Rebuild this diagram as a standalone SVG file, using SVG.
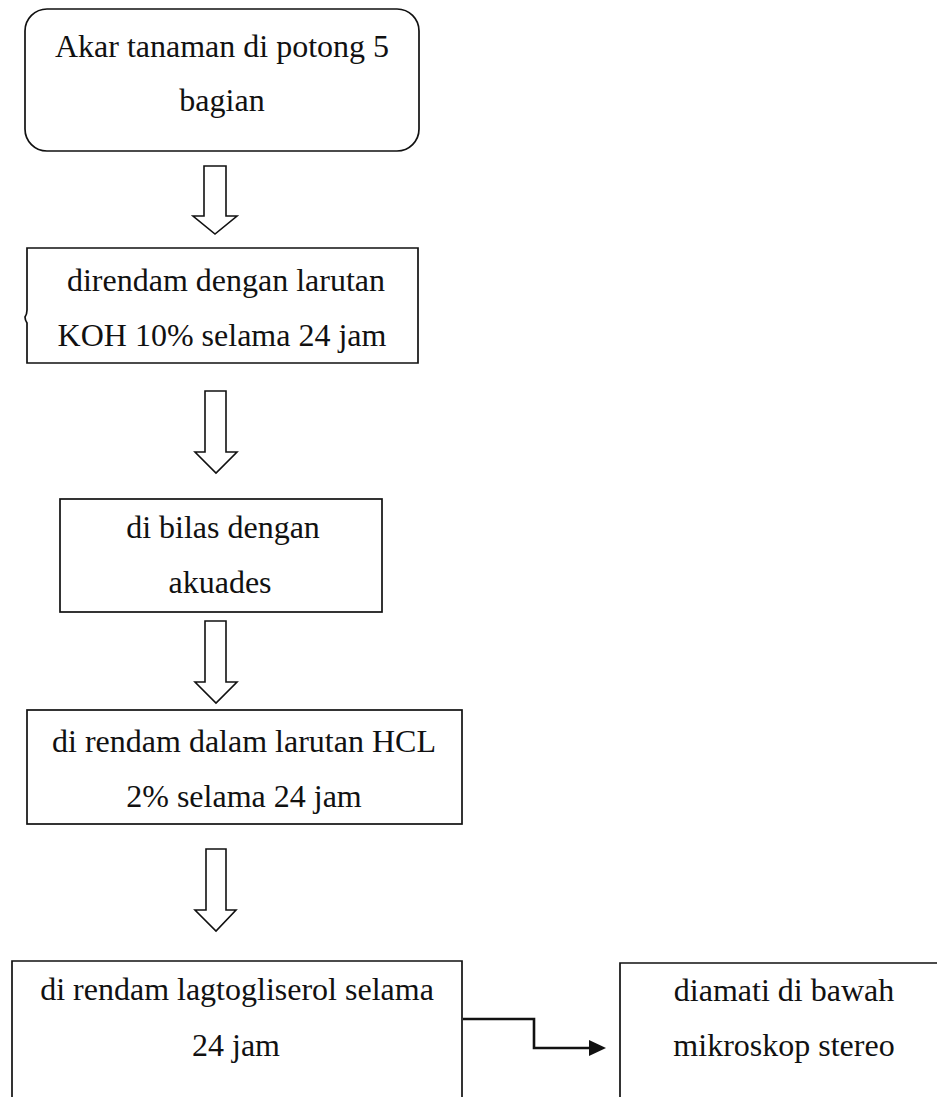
<svg xmlns="http://www.w3.org/2000/svg" width="937" height="1097" viewBox="0 0 937 1097">
<style>
.box{fill:#ffffff;stroke:#111111;stroke-width:1.7}
.blk{fill:#ffffff;stroke:#111111;stroke-width:1.6;stroke-linejoin:miter}
.t{font-family:"Liberation Serif","Times New Roman",serif;font-size:32px;fill:#111111;text-anchor:middle}
.conn{fill:none;stroke:#111111;stroke-width:2.6}
</style>
<defs>
<marker id="ah" markerWidth="17" markerHeight="17" refX="1" refY="8.5" orient="auto" markerUnits="userSpaceOnUse" viewBox="0 0 17 17">
<path d="M0,0.5 L17,8.5 L0,16.5 Z" fill="#111111"/>
</marker>
</defs>
<rect width="937" height="1097" fill="#ffffff"/>
<g id="node1">
<rect class="box" x="25" y="9" width="394" height="142" rx="22" ry="22"/>
<text class="t" x="222" y="57">Akar tanaman di potong 5</text>
<text class="t" x="222" y="111">bagian</text>
</g>
<g id="node2">
<path class="box" d="M27,248 L418,248 L418,363 L27,363 L27,323 Q25,320 25,317 Q27,314 27,310 Z"/>
<text class="t" x="226" y="291">direndam dengan larutan</text>
<text class="t" x="222" y="346">KOH 10% selama 24 jam</text>
</g>
<g id="node3">
<rect class="box" x="60" y="499" width="322" height="113"/>
<text class="t" x="223" y="538">di bilas dengan</text>
<text class="t" x="220" y="593">akuades</text>
</g>
<g id="node4">
<rect class="box" x="27" y="710" width="435" height="114"/>
<text class="t" x="244" y="752">di rendam dalam larutan HCL</text>
<text class="t" x="244" y="807">2% selama 24 jam</text>
</g>
<g id="node5">
<path class="box" d="M12,1100 L12,961 L462,961 L462,1100"/>
<text class="t" x="237" y="1000">di rendam lagtogliserol selama</text>
<text class="t" x="236" y="1056">24 jam</text>
</g>
<g id="node6">
<path class="box" d="M620,1100 L620,963 L940,963"/>
<text class="t" x="784" y="1001">diamati di bawah</text>
<text class="t" x="784" y="1056">mikroskop stereo</text>
</g>
<g id="connectors">
<path class="blk" d="M204,166 L226,166 L226,216 L237,216 L215,234 L193,216 L204,216 Z"/>
<path class="blk" d="M205,391 L226,391 L226,452 L237,452 L216,473 L195,452 L205,452 Z"/>
<path class="blk" d="M205,621 L226,621 L226,682 L237,682 L216,703 L195,682 L205,682 Z"/>
<path class="blk" d="M206,849 L226,849 L226,910 L236,910 L216,931 L195,910 L206,910 Z"/>
<path class="conn" d="M463,1019 L534,1019 L534,1048 L590,1048" marker-end="url(#ah)"/>
</g>
</svg>
